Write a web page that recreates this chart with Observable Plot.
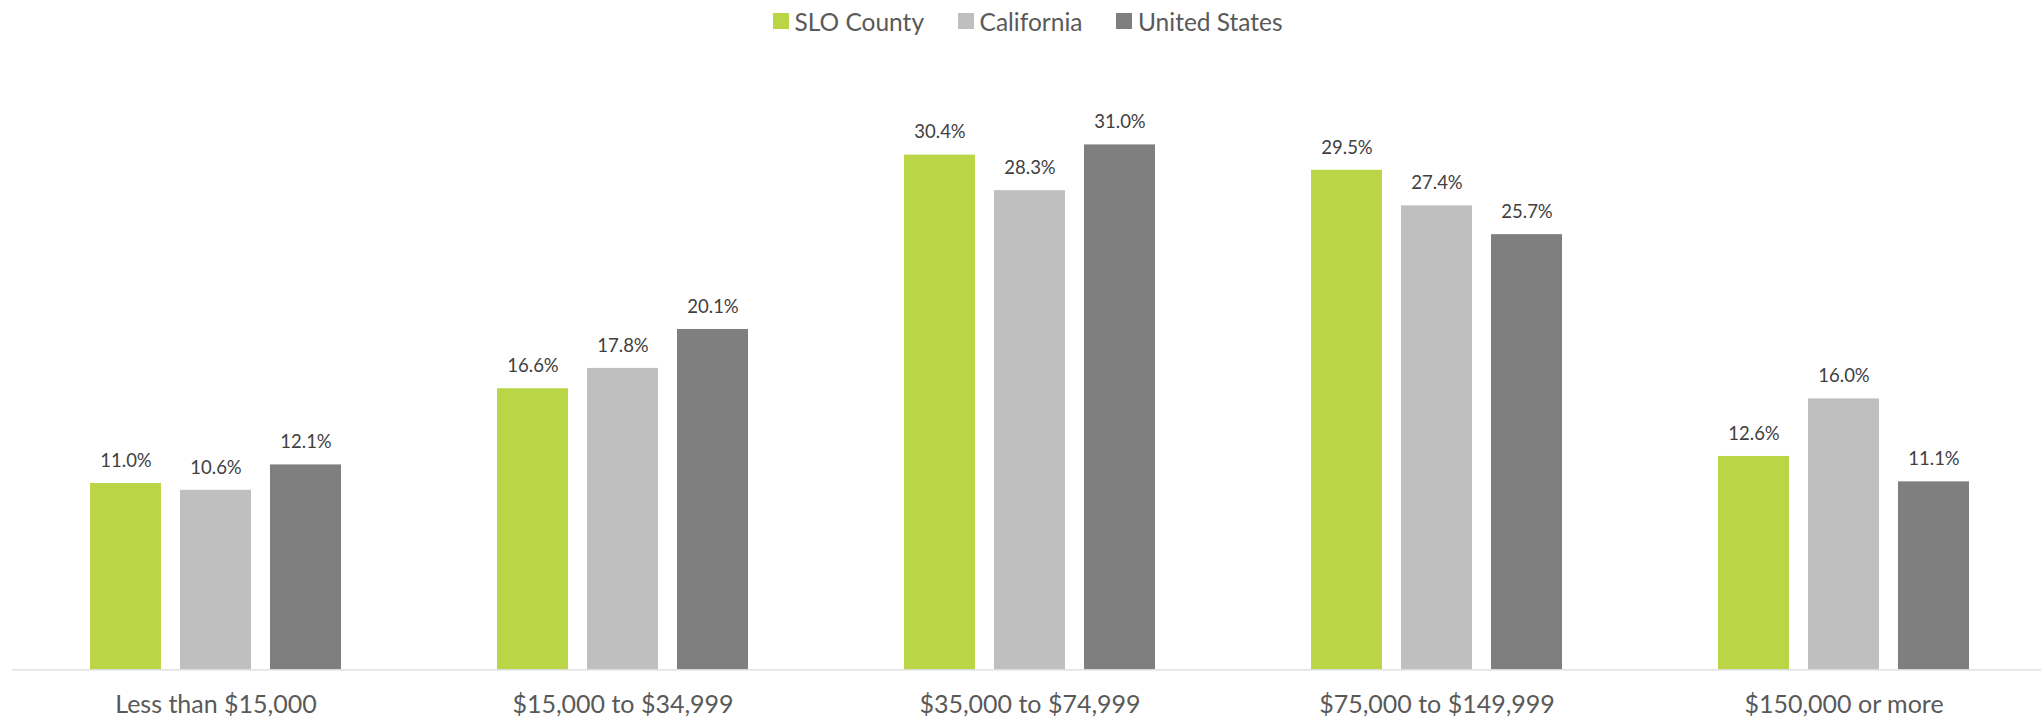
<!DOCTYPE html>
<html>
<head>
<meta charset="utf-8">
<script src="https://cdn.jsdelivr.net/npm/d3@7"></script>
<script src="https://cdn.jsdelivr.net/npm/@observablehq/plot@0.6"></script>
<style>
  html, body { margin: 0; padding: 0; background: #fff; }
  body { width: 2041px; height: 720px; overflow: hidden; font-family: Lato, "Open Sans", sans-serif; }
  #legend { height: 42px; display: flex; align-items: center; padding-left: 773px; box-sizing: border-box; }
  .item { display: flex; align-items: center; margin-right: 34px; color: #595959; font-size: 24.5px; }
  .sw { width: 15.5px; height: 15.5px; margin-right: 6px; }
</style>
</head>
<body>
<div id="legend"></div>
<div id="chart"></div>
<script>
const categories = ["Less than $15,000", "$15,000 to $34,999", "$35,000 to $74,999", "$75,000 to $149,999", "$150,000 or more"];
const series = ["SLO County", "California", "United States"];
const colors = ["#BAD546", "#BFBFBF", "#7F7F7F"];
const sloCounty = [11.0, 16.6, 30.4, 29.5, 12.6];
const california = [10.6, 17.8, 28.3, 27.4, 16.0];
const unitedStates = [12.1, 20.1, 31.0, 25.7, 11.1];

const seriesValues = [sloCounty, california, unitedStates];
const data = [];
categories.forEach((c, i) => {
  series.forEach((s, j) => data.push({category: c, series: s, value: seriesValues[j][i]}));
});

const legend = document.getElementById("legend");
series.forEach((s, j) => {
  const it = document.createElement("div");
  it.className = "item";
  const sw = document.createElement("div");
  sw.className = "sw";
  sw.style.background = colors[j];
  const tx = document.createElement("span");
  tx.textContent = s;
  it.appendChild(sw); it.appendChild(tx);
  legend.appendChild(it);
});

const chart = Plot.plot({
  width: 2041,
  height: 678,
  marginTop: 34.7,
  marginBottom: 50.7,
  marginLeft: 11,
  marginRight: 0,
  style: {fontFamily: "Lato, 'Open Sans', sans-serif", background: "#fff"},
  fx: {domain: categories, range: [11, 2048.5], paddingInner: 0, paddingOuter: 0, label: null},
  x: {domain: series, paddingInner: 0.215, paddingOuter: 0.86, axis: null},
  y: {domain: [0, 35], axis: null},
  color: {domain: series, range: colors},
  marks: [
    Plot.barY(data, {fx: "category", x: "series", y: "value", fill: "series"}),
    Plot.ruleY([0], {stroke: "#D9D9D9", strokeWidth: 1.3}),
    Plot.text(data, {fx: "category", x: "series", y: "value", text: d => d.value.toFixed(1) + "%", dy: -22.6, fontSize: 18.5, fill: "#404040"}),
    Plot.axisFx({anchor: "bottom", tickSize: 0, tickPadding: 25, fontSize: 25, color: "#595959", label: null})
  ]
});
document.getElementById("chart").appendChild(chart);
</script>
</body>
</html>
